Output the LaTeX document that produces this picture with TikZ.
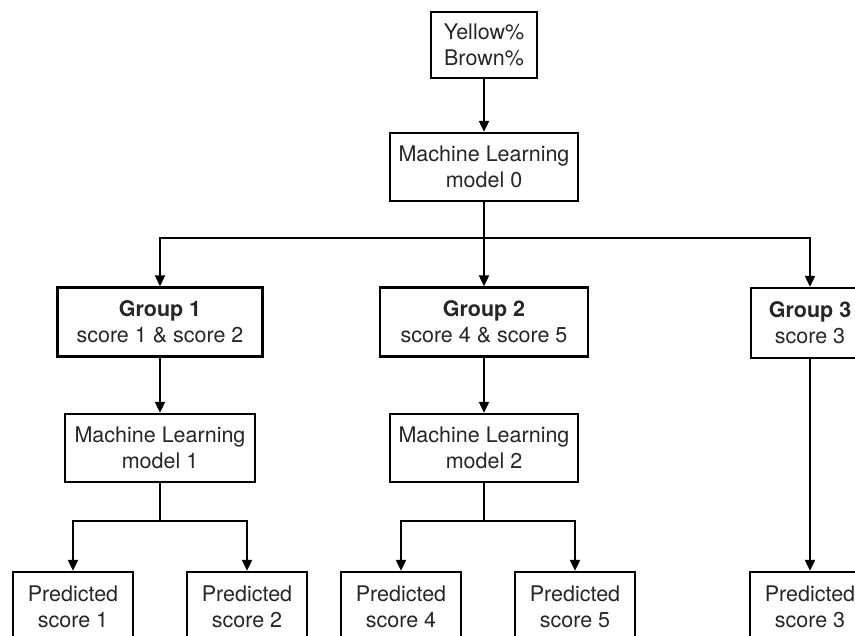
\documentclass[tikz,border=0pt]{standalone}
\usepackage{fontspec}
\setmainfont{TeX Gyre Heros}
\usetikzlibrary{arrows.meta}
\begin{document}
\begin{tikzpicture}[x=1pt,y=-1pt,
  box/.style={draw,line width=2.4pt,align=center,inner sep=0pt,
    font=\fontsize{21.5}{26}\selectfont,text=black!85},
  predbox/.style={box,minimum width=120pt,minimum height=70pt},
  conn/.style={line width=2.2pt},
  arr/.style={conn,-{Triangle[length=11pt,width=10pt]}}]
\useasboundingbox (0,0) rectangle (855,636);
\clip (0,0) rectangle (855,636);
% nodes
\node[box,minimum width=106pt,minimum height=66pt] (in) at (484,45) {Yellow\%\\Brown\%};
\node[box,minimum width=188pt,minimum height=68pt] (ml0) at (484,167) {Machine Learning\\model 0};
\node[box,minimum width=205pt,minimum height=69pt] (g1) at (160,322) {\textbf{Group 1}\\score 1 \& score 2};
\node[box,minimum width=208pt,minimum height=69pt] (g2) at (484,322) {\textbf{Group 2}\\score 4 \& score 5};
\node[box,minimum width=118pt,minimum height=70pt] (g3) at (810,323) {\textbf{Group 3}\\score 3};
\node[box,minimum width=190pt,minimum height=68pt] (ml1) at (160,448) {Machine Learning\\model 1};
\node[box,minimum width=188pt,minimum height=68pt] (ml2) at (484,448) {Machine Learning\\model 2};
\node[predbox] (p1) at (73,607) {Predicted\\score 1};
\node[predbox] (p2) at (247,607) {Predicted\\score 2};
\node[predbox] (p4) at (401,607) {Predicted\\score 4};
\node[predbox] (p5) at (575,607) {Predicted\\score 5};
\node[predbox] (p3) at (810,607) {Predicted\\score 3};
% junctions
\coordinate (j0) at (484,238);
\coordinate (j1) at (160,521);
\coordinate (j2) at (484,521);
% connectors
\draw[arr] (in) -- (ml0);
\draw[conn] (ml0) -- (j0);
\draw[arr] (j0) -| (g1.north);
\draw[arr] (j0) -- (g2);
\draw[arr] (j0) -| (g3.north);
\draw[arr] (g1) -- (ml1);
\draw[arr] (g2) -- (ml2);
\draw[arr] (g3) -- (p3);
\draw[conn] (ml1) -- (j1);
\draw[arr] (j1) -| (p1.north);
\draw[arr] (j1) -| (p2.north);
\draw[conn] (ml2) -- (j2);
\draw[arr] (j2) -| (p4.north);
\draw[arr] (j2) -| (p5.north);
\end{tikzpicture}
\end{document}
